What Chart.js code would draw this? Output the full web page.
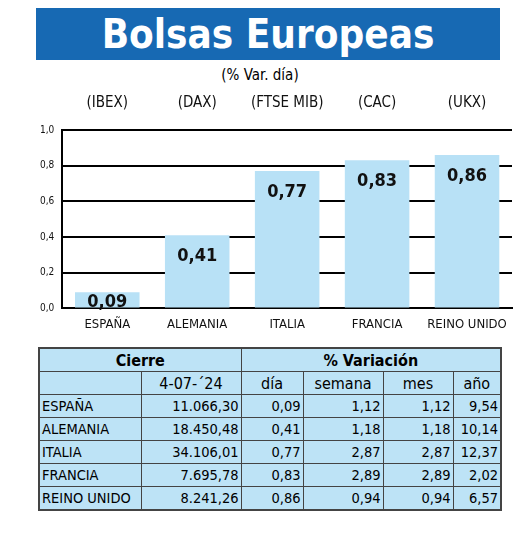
<!DOCTYPE html>
<html><head><meta charset="utf-8">
<script src="https://cdn.jsdelivr.net/npm/chart.js@4"></script>
<style>
body{margin:0;background:#fff;font-family:"DejaVu Sans Condensed","Liberation Sans",sans-serif;}
#title{position:absolute;left:36px;top:8px;width:464px;height:52px;background:#1769b3;color:#fff;font-size:40px;font-weight:bold;text-align:center;line-height:52px;}
#sub{position:absolute;left:0;width:520px;top:66px;text-align:center;font-size:15px;}
#wrap{position:absolute;left:0;top:84px;width:520px;height:248px;}
table{position:absolute;left:38px;top:347px;width:462px;border-collapse:collapse;table-layout:fixed;background:#bde3f6;font-size:14.5px;border:2px solid #444;}
td{padding:0 2px;height:22px;border-bottom:1.5px solid #444;white-space:nowrap;overflow:hidden;}
td.v{text-align:right;border-left:1.5px solid #444;}
tr.h td{text-align:center;font-size:16px;}
</style></head><body>
<div id="title">Bolsas Europeas</div>
<div id="sub">(% Var. día)</div>
<div id="wrap"><canvas id="c"></canvas></div>
<table id="t"><colgroup><col style="width:102px"><col style="width:100px"><col style="width:62px"><col style="width:80px"><col style="width:70px"><col style="width:48px"></colgroup><tbody id="tb"></tbody></table>
<script>
const countries = ["ESPAÑA","ALEMANIA","ITALIA","FRANCIA","REINO UNIDO"];
const indices = ["(IBEX)","(DAX)","(FTSE MIB)","(CAC)","(UKX)"];
const dayVar = [0.09,0.41,0.77,0.83,0.86];
const cierre = ["11.066,30","18.450,48","34.106,01","7.695,78","8.241,26"];
const weekVar = ["1,12","1,18","2,87","2,89","0,94"];
const monthVar = ["1,12","1,18","2,87","2,89","0,94"];
const yearVar = ["9,54","10,14","12,37","2,02","6,57"];
const yTicks = [0,0.2,0.4,0.6,0.8,1.0];
const fmt = v => v.toFixed(2).replace(".", ",");
const FONT = "DejaVu Sans Condensed";

const labelPlugin = {
  id: "vals",
  afterDatasetsDraw(chart) {
    const ctx = chart.ctx;
    ctx.save();
    ctx.font = "bold 18px '" + FONT + "'";
    ctx.fillStyle = "#111";
    ctx.textAlign = "center";
    chart.getDatasetMeta(0).data.forEach((bar, i) => {
      ctx.fillText(fmt(dayVar[i]), bar.x, Math.min(bar.y + 26, chart.scales.y.bottom - 1));
    });
    ctx.restore();
  }
};

new Chart(document.getElementById("c"), {
  type: "bar",
  data: { labels: countries, datasets: [{ data: dayVar, backgroundColor: "#b8e1f6", categoryPercentage: 0.92, barPercentage: 0.78 }] },
  options: {
    responsive: true, maintainAspectRatio: false, animation: false,
    layout: { padding: { right: 8, left: 32 } },
    plugins: { legend: { display: false }, tooltip: { enabled: false } },
    scales: {
      x: { grid: { display: false }, border: { color: "#000", width: 2 },
           ticks: { color: "#111", maxRotation: 0, autoSkip: false, font: { size: 13, family: FONT }, padding: 0 } },
      x2: { position: "top", labels: indices, grid: { display: false }, border: { display: false },
            ticks: { color: "#111", maxRotation: 0, autoSkip: false, font: { size: 15, family: FONT }, padding: 10 } },
      y: { min: 0, max: 1, afterBuildTicks: a => { a.ticks = yTicks.map(v => ({ value: v })); },
           grid: { color: "#000", lineWidth: 2, drawTicks: false }, border: { color: "#000", width: 2 },
           ticks: { color: "#111", padding: 8, font: { size: 10, family: FONT }, callback: v => v.toFixed(1).replace(".", ",") } }
    }
  },
  plugins: [labelPlugin]
});

let h = '<tr class="h"><td colspan="2" style="font-weight:bold">Cierre</td><td colspan="4" class="v" style="text-align:center;font-weight:bold">% Variación</td></tr>';
h += '<tr class="h"><td></td><td class="v">4-07-´24</td><td class="v">día</td><td class="v">semana</td><td class="v">mes</td><td class="v">año</td></tr>';
countries.forEach((c, i) => {
  h += `<tr><td>${c}</td><td class="v">${cierre[i]}</td><td class="v">${fmt(dayVar[i])}</td><td class="v">${weekVar[i]}</td><td class="v">${monthVar[i]}</td><td class="v">${yearVar[i]}</td></tr>`;
});
document.getElementById("tb").innerHTML = h;
</script>
</body></html>
